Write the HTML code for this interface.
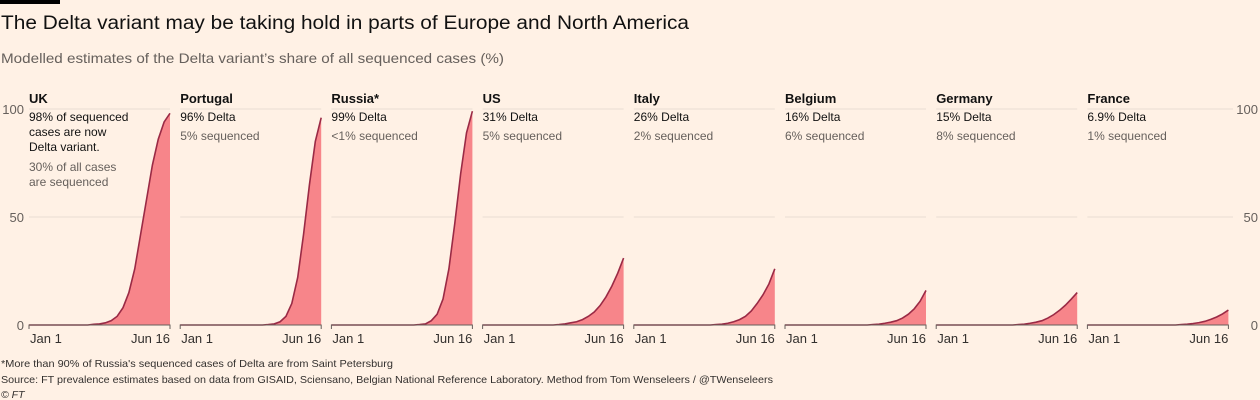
<!DOCTYPE html>
<html><head><meta charset="utf-8">
<style>
html,body{margin:0;padding:0;background:#fff1e5;}
svg{display:block;font-family:"Liberation Sans",sans-serif;}
</style></head>
<body>
<svg id="chart" width="1260" height="400" viewBox="0 0 1260 400">
<rect x="0" y="0" width="1260" height="400" fill="#fff1e5"/>
<rect x="0" y="0" width="60" height="4" fill="#000"/>
<text x="1" y="29" font-size="19" fill="#111" textLength="688" lengthAdjust="spacingAndGlyphs">The Delta variant may be taking hold in parts of Europe and North America</text>
<text x="1" y="63" font-size="14" fill="#66605c" textLength="503" lengthAdjust="spacingAndGlyphs">Modelled estimates of the Delta variant’s share of all sequenced cases (%)</text>
<g id="panels"></g>
<text x="1" y="367" font-size="10.5" fill="#33302e" textLength="392" lengthAdjust="spacingAndGlyphs">*More than 90% of Russia's sequenced cases of Delta are from Saint Petersburg</text>
<text x="1" y="383" font-size="10.5" fill="#33302e" textLength="772" lengthAdjust="spacingAndGlyphs">Source: FT prevalence estimates based on data from GISAID, Sciensano, Belgian National Reference Laboratory. Method from Tom Wenseleers / @TWenseleers</text>
<text x="1" y="398" font-size="10.5" fill="#33302e" font-style="italic">© FT</text>
</svg>
<script>
const countries = ["UK","Portugal","Russia*","US","Italy","Belgium","Germany","France"];
const deltaLabels = ["98% of sequenced","96% Delta","99% Delta","31% Delta","26% Delta","16% Delta","15% Delta","6.9% Delta"];
const seqLabels = ["","5% sequenced","<1% sequenced","5% sequenced","2% sequenced","6% sequenced","8% sequenced","1% sequenced"];
const yTicks = [0,50,100];
const xTickLabels = ["Jan 1","Jun 16"];
const ukValues = [0,0,0,0,0,0,0,0,0,0,0,0.3,0.5,1,2,4,8,15,26,42,58,74,86,94,98];
const portugalValues = [0,0,0,0,0,0,0,0,0,0,0,0,0,0,0,0.2,0.5,1.5,4,10,22,42,65,85,96];
const russiaValues = [0,0,0,0,0,0,0,0,0,0,0,0,0,0,0,0.2,0.5,2,5,12,26,47,70,89,99];
const usValues = [0,0,0,0,0,0,0,0,0,0,0,0,0,0.2,0.5,1,1.5,2.5,4,6,9,13,18,24,31];
const italyValues = [0,0,0,0,0,0,0,0,0,0,0,0,0,0,0.2,0.4,0.8,1.5,2.5,4,6.5,10,14,19,26];
const belgiumValues = [0,0,0,0,0,0,0,0,0,0,0,0,0,0,0,0.2,0.4,0.8,1.3,2,3.2,5,7.5,11,16];
const germanyValues = [0,0,0,0,0,0,0,0,0,0,0,0,0,0,0.2,0.4,0.8,1.3,2,3.2,4.8,6.8,9.2,12,15];
const franceValues = [0,0,0,0,0,0,0,0,0,0,0,0,0,0,0,0,0.2,0.4,0.7,1.1,1.7,2.6,3.7,5.1,6.9];
const series = [ukValues,portugalValues,russiaValues,usValues,italyValues,belgiumValues,germanyValues,franceValues];

const NS="http://www.w3.org/2000/svg";
const g=document.getElementById('panels');
const x0=29, step=151.2, pw=141, yTop=109, yBot=325;
function yScale(v){return yBot-(v/100)*(yBot-yTop);}
function mk(tag,attrs,parent){const e=document.createElementNS(NS,tag);for(const k in attrs)e.setAttribute(k,attrs[k]);(parent||g).appendChild(e);return e;}

// axis labels left/right
yTicks.forEach(t=>{
  const l=mk('text',{x:24,y:yScale(t)+5,'font-size':13,fill:'#66605c','text-anchor':'end'});
  
  
  l.textContent=t;
  const r=mk('text',{x:1258,y:yScale(t)+5,'font-size':13,fill:'#66605c','text-anchor':'end'});
  
  
  r.textContent=t;
});

countries.forEach((c,i)=>{
  const px=x0+i*step;
  const vals=series[i];
  const xs=j=>px+j/(vals.length-1)*pw;
  const pg=mk('g',{});
  
  
  const gridEnd = (i===countries.length-1)? 1233 : px+pw;
  [50,100].forEach(t=>{
    const gl=mk('line',{x1:px,x2:gridEnd,y1:yScale(t),y2:yScale(t),stroke:'#e9ddd2','stroke-width':1},pg);
    
    
  });
  let d='M'+xs(0)+','+yBot;
  vals.forEach((v,j)=>{d+=' L'+xs(j).toFixed(2)+','+yScale(v).toFixed(2);});
  d+=' L'+xs(vals.length-1)+','+yBot+' Z';
  const area=mk('path',{d:d,fill:'#f7858a'},pg);
  
  
  let ld='';
  vals.forEach((v,j)=>{ld+=(j?' L':'M')+xs(j).toFixed(2)+','+yScale(v).toFixed(2);});
  const line=mk('path',{d:ld,fill:'none',stroke:'#9a2a45','stroke-width':1.6},pg);
  
  
  const ax=mk('path',{d:`M${px},${yBot+4} V${yBot} H${px+pw} V${yBot+4}`,fill:'none',stroke:'#66605c','stroke-width':1},pg);
  
  
  const xl1=mk('text',{x:px+1,y:343,'font-size':13,fill:'#33302e'},pg);
  
  
  xl1.textContent=xTickLabels[0];
  const xl2=mk('text',{x:px+pw,y:343,'font-size':13,fill:'#33302e','text-anchor':'end'},pg);
  
  
  xl2.textContent=xTickLabels[1];
  const tt=mk('text',{x:px,y:103,'font-size':13,'font-weight':'bold',fill:'#111'},pg);
  
  
  tt.textContent=c;
  if(i===0){
    ["98% of sequenced","cases are now","Delta variant."].forEach((s,k)=>{
      const t=mk('text',{x:px,y:121+k*15,'font-size':12,fill:'#111'},pg);
      
      
      t.textContent=s;
    });
    ["30% of all cases","are sequenced"].forEach((s,k)=>{
      const t=mk('text',{x:px,y:171+k*15,'font-size':12,fill:'#66605c'},pg);
      
      
      t.textContent=s;
    });
  } else {
    const t1=mk('text',{x:px,y:121,'font-size':12,fill:'#111'},pg);
    
    
    t1.textContent=deltaLabels[i];
    const t2=mk('text',{x:px,y:140,'font-size':12,fill:'#66605c'},pg);
    
    
    t2.textContent=seqLabels[i];
  }
});
</script>
</body></html>
